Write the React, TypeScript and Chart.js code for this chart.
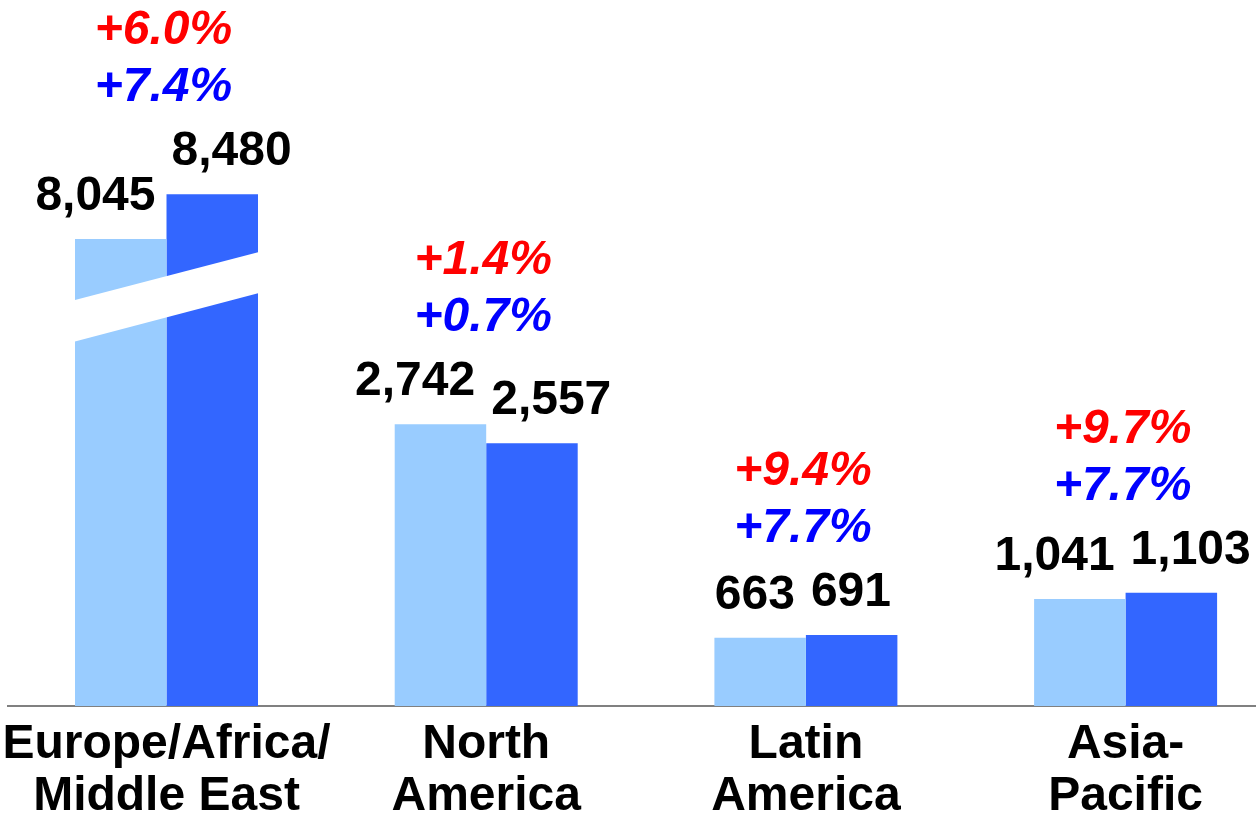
import React, { useEffect, useRef } from "react";
import { Chart, registerables } from "chart.js";

Chart.register(...registerables);

// ---- data ----
const categories: string[][] = [
  ["Europe/Africa/", "Middle East"],
  ["North", "America"],
  ["Latin", "America"],
  ["Asia-", "Pacific"],
];
const seriesPrev = [8045, 2742, 663, 1041];
const seriesCurr = [8480, 2557, 691, 1103];
const growthRed = ["+6.0%", "+1.4%", "+9.4%", "+9.7%"];
const growthBlue = ["+7.4%", "+0.7%", "+7.7%", "+7.7%"];

// broken-axis handling: these categories are drawn shortened by breakAmount
const brokenCategories = [0];
const breakAmount = 3500;
// white band (in drawn units) at left edge [bottom, top] and right edge [bottom, top]
const breakBandLeft = [3544, 3949];
const breakBandRight = [4020, 4419];

const FONT = "'Liberation Sans', Arial, Helvetica, sans-serif";

const drawn = (vals: number[]) =>
  vals.map((v, i) => ({ x: i, y: brokenCategories.includes(i) ? v - breakAmount : v }));

const labelPlugin = {
  id: "customLabels",
  afterDatasetsDraw(chart: any) {
    const ctx = chart.ctx as CanvasRenderingContext2D;
    const m0 = chart.getDatasetMeta(0);
    const m1 = chart.getDatasetMeta(1);
    const ys = chart.scales.y;

    // break band
    brokenCategories.forEach((i) => {
      const b0 = m0.data[i];
      const b1 = m1.data[i];
      const x0 = b0.x - b0.width / 2 - 1;
      const x1 = b1.x + b1.width / 2 + 1;
      ctx.save();
      ctx.fillStyle = "#ffffff";
      ctx.beginPath();
      ctx.moveTo(x0, ys.getPixelForValue(breakBandLeft[1]));
      ctx.lineTo(x1, ys.getPixelForValue(breakBandRight[1]));
      ctx.lineTo(x1, ys.getPixelForValue(breakBandRight[0]));
      ctx.lineTo(x0, ys.getPixelForValue(breakBandLeft[0]));
      ctx.closePath();
      ctx.fill();
      ctx.restore();
    });

    ctx.save();
    ctx.textBaseline = "alphabetic";
    for (let i = 0; i < categories.length; i++) {
      const b0 = m0.data[i];
      const b1 = m1.data[i];
      const gc = (b0.x + b0.width / 2 + b1.x - b1.width / 2) / 2;
      // value labels
      ctx.font = `bold 48px ${FONT}`;
      ctx.fillStyle = "#000000";
      ctx.textAlign = "right";
      ctx.fillText(seriesPrev[i].toLocaleString("en-US"), gc - 11, b0.y - 29);
      ctx.textAlign = "left";
      ctx.fillText(seriesCurr[i].toLocaleString("en-US"), gc + 5, b1.y - 29);
      // growth labels
      const top = Math.min(b0.y, b1.y);
      ctx.font = `italic bold 48px ${FONT}`;
      ctx.textAlign = "center";
      ctx.fillStyle = "#0000FF";
      ctx.fillText(growthBlue[i], gc - 3, top - 93);
      ctx.fillStyle = "#FF0000";
      ctx.fillText(growthRed[i], gc - 3, top - 150);
    }
    ctx.restore();
  },
};

export default function App() {
  const ref = useRef<HTMLCanvasElement | null>(null);

  useEffect(() => {
    if (!ref.current) return;
    const chart = new Chart(ref.current, {
      type: "bar",
      data: {
        datasets: [
          {
            label: "Previous",
            data: drawn(seriesPrev),
            backgroundColor: "#99CCFF",
            borderWidth: 0,
          },
          {
            label: "Current",
            data: drawn(seriesCurr),
            backgroundColor: "#3366FF",
            borderWidth: 0,
          },
        ],
      },
      options: {
        animation: false,
        responsive: true,
        maintainAspectRatio: false,
        layout: { padding: { left: 8, right: 0, top: 0, bottom: 0 } },
        datasets: {
          bar: { categoryPercentage: 0.5724, barPercentage: 1.0 },
        },
        plugins: {
          legend: { display: false },
          tooltip: { enabled: false },
        },
        scales: {
          x: {
            type: "linear",
            offset: false,
            min: -0.4958,
            max: 3.4079,
            afterBuildTicks: (scale: any) => {
              scale.ticks = categories.map((_, i) => ({ value: i }));
            },
            afterFit: (scale: any) => {
              scale.height = 110;
              scale.paddingLeft = 0;
              scale.paddingRight = 0;
            },
            grid: { display: false, drawTicks: false, offset: false },
            border: { display: true, color: "#808080", width: 2 },
            ticks: {
              padding: 13,
              color: "#000000",
              maxRotation: 0,
              minRotation: 0,
              autoSkip: false,
              font: { family: FONT, size: 48, weight: "bold", lineHeight: 1.083 },
              callback: (v: any) => categories[Number(v)] ?? "",
            },
          },
          y: {
            display: false,
            min: 0,
            max: 6870,
          },
        },
      },
      plugins: [labelPlugin],
    } as any);
    return () => chart.destroy();
  }, []);

  return (
    <div style={{ position: "absolute", left: 0, top: 0, width: 1256, height: 816, background: "#fff" }}>
      <canvas ref={ref} />
    </div>
  );
}
